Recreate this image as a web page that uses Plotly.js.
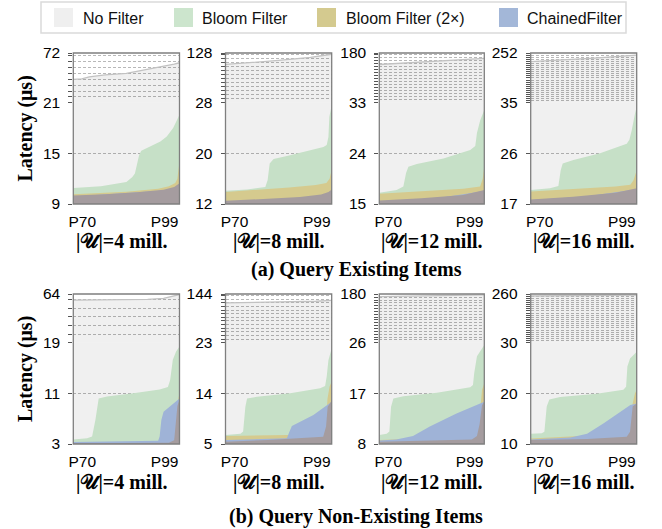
<!DOCTYPE html>
<html><head><meta charset="utf-8">
<script src="https://cdn.plot.ly/plotly-3.0.1.min.js"></script>
<style>html,body{margin:0;padding:0;background:#fff;}#chart{width:662px;height:529px;}</style>
</head><body><div id="chart"></div>
<script>
// ---------- DATA (x = position across the P70..P99 window, 0..100) ----------
const seriesNames = ['No Filter', 'Bloom Filter', 'Bloom Filter (2×)', 'ChainedFilter'];
const panelLabels = ['|𝒰|=4 mill.', '|𝒰|=8 mill.', '|𝒰|=12 mill.', '|𝒰|=16 mill.',
                     '|𝒰|=4 mill.', '|𝒰|=8 mill.', '|𝒰|=12 mill.', '|𝒰|=16 mill.'];
const sectionTitles = ['(a) Query Existing Items', '(b) Query Non-Existing Items'];
const xTickPos = [8.5, 86];
const xTickText = ['P70', 'P99'];
const yMin   = [9, 12, 15, 17, 3, 5, 8, 10];
const yBreak = [21, 28, 33, 35, 19, 23, 26, 30];
const yMax   = [72, 128, 180, 252, 64, 144, 180, 260];
const yStep  = [6, 8, 9, 9, 8, 9, 9, 10];

// (a) Query Existing Items, |U| = 4 mill.
const a4_noFilter = [[0,45],[8,45.5],[15,47.5],[30,49.5],[50,51],[60,53],[70,55],[85,58],[95,60.5],[100,62]];
const a4_bloom    = [[0,10.9],[26,11.1],[50,11.6],[55.6,12.2],[58,12.6],[60,13.6],[62,14.8],[64,15.3],[69,15.6],[75,16.0],[82,16.4],[88,17.0],[94,18.0],[99,19.3],[100,19.6]];
const a4_bloom2x  = [[0,10.15],[50,10.45],[80,10.8],[90,11.1],[96,11.5],[98,12.0],[99,13.0],[100,14.0]];
const a4_chained  = [[0,9.9],[50,10.3],[85,10.6],[95,10.9],[100,11.3]];
const a4_overlap  = [[0,10.0],[30,10.15],[60,10.4],[85,10.7],[95,11.0],[100,11.45]];
// |U| = 8 mill.
const a8_noFilter = [[0,105],[20,108],[50,113],[80,119],[100,125.5]];
const a8_bloom    = [[0,14.1],[20.3,14.3],[37.5,14.7],[39.7,15.8],[41.6,18.4],[45.3,19.1],[57.8,19.6],[76.6,20.3],[92.2,21.0],[95.3,21.3],[96.9,22.6],[97.8,25.8],[100,27.6]];
const a8_bloom2x  = [[0,13.9],[30,14.2],[60,14.6],[85,15.0],[95,15.3],[98,16.0],[100,17.4]];
const a8_chained  = [[0,12.4],[50,12.7],[90,13.3],[100,14.0]];
const a8_overlap  = [[0,12.5],[40,12.8],[70,13.1],[90,13.5],[97,13.9],[100,14.3]];
// |U| = 12 mill.
const a12_noFilter = [[0,146],[30,151],[60,156],[100,164]];
const a12_bloom    = [[0,17.0],[16.5,17.5],[22.9,18.1],[25.5,20.5],[27.7,21.6],[35.7,22.1],[61.1,23.1],[86.6,24.6],[91.4,25.3],[93,27.6],[96.1,29.9],[100,31.7]];
const a12_bloom2x  = [[0,16.8],[40,17.2],[80,17.7],[96,18.1],[98.5,19.5],[100,21.6]];
const a12_chained  = [[0,15.5],[50,15.9],[100,17.3]];
const a12_overlap  = [[0,15.6],[40,16.0],[80,16.6],[95,17.2],[100,17.5]];
// |U| = 16 mill.
const a16_noFilter = [[0,214],[30,221],[60,230],[100,243]];
const a16_bloom    = [[0,19.5],[18.2,19.8],[26.1,20.2],[28.3,23.0],[30.2,24.2],[40.3,24.8],[65.4,26.0],[90.6,27.7],[93.1,28.4],[95.3,30.1],[98.4,33.1],[100,34.3]];
const a16_bloom2x  = [[0,19.2],[40,19.6],[80,20.1],[94,20.4],[97,21.2],[100,23.0]];
const a16_chained  = [[0,17.7],[50,18.3],[100,19.6]];
const a16_overlap  = [[0,17.8],[40,18.3],[80,19.0],[95,19.5],[100,19.8]];

// (b) Query Non-Existing Items, |U| = 4 mill.
const b4_noFilter = [[0,58.4],[40,58.6],[70,59.0],[85,60.0],[95,62.0],[100,63.5]];
const b4_bloom    = [[0,3.7],[13,3.9],[17.7,4.2],[20.8,6.8],[23.9,10.2],[31.7,10.5],[56.5,11.0],[81.3,11.6],[89.1,12.0],[91.2,13.1],[93.7,16.3],[96.8,17.6],[100,18.4]];
const b4_bloom2x  = [[0,3.25],[90,3.35],[96,3.8],[97.5,6.0],[99,10.2],[100,11.0]];
const b4_chained  = [[0,3.3],[56.5,3.4],[79.9,3.5],[81.3,4.2],[82.9,6.8],[85,8.1],[90.6,8.9],[98.4,9.95],[100,10.2]];
const b4_overlap  = [[0,3.1],[90,3.2],[95,3.6],[96.5,6.0],[98,9.0],[100,10.0]];
// |U| = 8 mill.
const b8_noFilter = [[0,122],[50,124],[85,126],[100,128]];
const b8_bloom    = [[0,6.6],[14.1,6.8],[16.6,7.2],[18.7,11.6],[20.3,13.1],[29.7,13.4],[60.9,14.0],[89.1,14.9],[93.8,15.3],[95.3,17.0],[96.9,19.9],[100,22.0]];
const b8_bloom2x  = [[0,6.4],[57.8,6.6],[92,6.9],[94.5,8.0],[96,13.0],[98,15.2],[100,16.1]];
const b8_chained  = [[0,5.7],[57.8,6.0],[60.3,7.2],[62.5,8.2],[82.8,10.15],[98.4,12.2],[100,12.5]];
const b8_overlap  = [[0,5.4],[40,5.7],[92,6.3],[94.7,8.1],[96.2,11.6],[100,12.7]];
// |U| = 12 mill.
const b12_noFilter = [[0,171.5],[50,174],[100,177]];
const b12_bloom    = [[0,9.6],[7,9.8],[9.6,10.2],[11.2,14.6],[13.4,16.1],[22.9,16.5],[54.8,17.1],[86.6,18.1],[89.2,18.5],[90.4,20.6],[93,23.6],[100,25.6]];
const b12_bloom2x  = [[0,8.7],[93,9.3],[95.5,12.8],[97.8,17.6],[100,18.8]];
const b12_chained  = [[0,8.6],[16.2,8.8],[32.1,9.4],[48.1,11.1],[73.5,13.4],[93,14.9],[100,15.5]];
const b12_overlap  = [[0,8.4],[48,8.6],[88.2,8.8],[93,9.4],[95.5,11.5],[97.8,14.9],[100,15.5]];
// |U| = 16 mill.
const b16_noFilter = [[0,250.5],[50,252.5],[100,255]];
const b16_bloom    = [[0,12.0],[10.4,12.1],[12.9,12.4],[15.1,17.4],[17.6,18.8],[27.7,19.3],[62.3,19.9],[87.4,20.7],[90,21.3],[91.2,25.3],[93.7,26.9],[100,28.2]];
const b16_bloom2x  = [[0,11.1],[87.4,12.0],[93.7,12.4],[96.2,18.0],[98.4,20.0],[100,20.7]];
const b16_chained  = [[0,10.9],[37.5,11.3],[53.2,12.0],[68.9,14.1],[94,17.7],[100,18.0]];
const b16_overlap  = [[0,10.8],[53.2,11.0],[90.6,11.45],[93.7,12.4],[96.2,17.4],[100,18.0]];

const panels = [
  [a4_noFilter, a4_bloom, a4_bloom2x, a4_chained, a4_overlap],
  [a8_noFilter, a8_bloom, a8_bloom2x, a8_chained, a8_overlap],
  [a12_noFilter, a12_bloom, a12_bloom2x, a12_chained, a12_overlap],
  [a16_noFilter, a16_bloom, a16_bloom2x, a16_chained, a16_overlap],
  [b4_noFilter, b4_bloom, b4_bloom2x, b4_chained, b4_overlap],
  [b8_noFilter, b8_bloom, b8_bloom2x, b8_chained, b8_overlap],
  [b12_noFilter, b12_bloom, b12_bloom2x, b12_chained, b12_overlap],
  [b16_noFilter, b16_bloom, b16_bloom2x, b16_chained, b16_overlap]
];

// ---------- STYLE / LAYOUT ----------
const W = 662, H = 529;
const fillColors = ['rgba(0,0,0,0.058)', '#c6e0c7', '#d5ca8e', '#9fb3d7', '#a59c9f'];
const legendColors = ['#efefef', '#cce5cd', '#d4ca8f', '#a3b7d8'];
const colPx = [[73.3,179.5],[225.5,331.7],[379.3,484.3],[530.7,636.7]];
const rowPx = [[53,102.7,204],[294,342.7,444]]; // top, break, bottom
const legendBoxPx = [41, 2, 626, 33];
const legendSwatchPx = [54, 174, 317, 499];
const legendTextPx = [81, 200, 344, 525];
const sansFont = 'Liberation Sans, Arial, Helvetica, sans-serif';
const serifFont = 'Liberation Serif, Times New Roman, serif';

const px2x = p => p / W;
const px2y = p => 1 - p / H;

const traces = [];
const layout = {
  width: W, height: H,
  margin: {l:0, r:0, t:0, b:0},
  paper_bgcolor: '#fff', plot_bgcolor: 'rgba(0,0,0,0)',
  showlegend: false,
  shapes: [], annotations: []
};

for (let i = 0; i < 8; i++) {
  const col = i % 4, row = Math.floor(i / 4);
  const xn = i === 0 ? '' : String(i + 1);
  const ylo = String(i + 1), yhi = String(i + 9);
  const xd = [px2x(colPx[col][0]), px2x(colPx[col][1])];
  const [pt, pb, pbot] = rowPx[row];
  const loDom = [px2y(pbot), px2y(pb)];
  const hiDom = [px2y(pb), px2y(pt)];

  const upperVals = [], upperText = [];
  for (let v = yBreak[i] + yStep[i]; v < yMax[i] - 0.5; v += yStep[i]) { upperVals.push(v); upperText.push(''); }
  upperVals.push(yMax[i]); upperText.push(String(yMax[i]));
  const lowerVals = [yMin[i], yMin[i] + yStep[i], yBreak[i]];

  const common = {
    showgrid: true, gridcolor: '#9a9a9a', griddash: '3px,2px', gridwidth: 0.7,
    zeroline: false, showline: false, ticks: 'outside', ticklen: 4, tickwidth: 1, tickcolor: '#555',
    tickfont: {family: sansFont, size: 15.5, color: '#000'}, ticklabelstandoff: 5, fixedrange: true,
    anchor: 'x' + xn
  };
  layout['xaxis' + xn] = {
    domain: xd, anchor: 'y' + (i === 0 ? '' : ylo), range: [0, 100],
    tickmode: 'array', tickvals: xTickPos, ticktext: xTickText, ticks: '',
    showgrid: false, zeroline: false, showline: false, fixedrange: true,
    tickfont: {family: sansFont, size: 15.5, color: '#000'}, ticklabelstandoff: 6
  };
  layout['yaxis' + (i === 0 ? '' : ylo)] = Object.assign({}, common, {
    domain: loDom, range: [yMin[i], yBreak[i]], tickmode: 'array',
    tickvals: lowerVals, ticktext: lowerVals.map(String)
  });
  layout['yaxis' + yhi] = Object.assign({}, common, {
    domain: hiDom, range: [yBreak[i], yMax[i]], tickmode: 'array',
    tickvals: upperVals, ticktext: upperText
  });

  const data = panels[i];
  const xRef = 'x' + xn, yLoRef = 'y' + (i === 0 ? '' : ylo), yHiRef = 'y' + yhi;
  const mk = (arr, idx, yref, withLine) => ({
    type: 'scatter', mode: 'lines', x: arr.map(p => p[0]), y: arr.map(p => p[1]),
    xaxis: xRef, yaxis: yref, fill: 'tozeroy', fillcolor: fillColors[idx],
    line: withLine ? {color: '#c2c2c2', width: 1.3} : {width: 0, color: fillColors[idx]},
    showlegend: false, hoverinfo: 'skip'
  });
  traces.push(mk(data[0], 0, yLoRef, false));
  traces.push(mk(data[0], 0, yHiRef, true));
  for (let s = 1; s < 5; s++) traces.push(mk(data[s], s, yLoRef, false));

  layout.shapes.push({type: 'rect', xref: 'paper', yref: 'paper', x0: xd[0], x1: xd[1],
    y0: loDom[0], y1: hiDom[1], line: {color: '#7f7f7f', width: 1.3}, fillcolor: 'rgba(0,0,0,0)', layer: 'above'});

  layout.annotations.push({xref: 'paper', yref: 'paper', x: (xd[0] + xd[1]) / 2 - (col === 0 ? 0.006 : 0), y: px2y(row === 0 ? 242 : 482),
    text: '<b>' + panelLabels[i] + '</b>', showarrow: false, xanchor: 'center', yanchor: 'middle',
    font: {family: serifFont, size: 20, color: '#000'}});
}
for (let r = 0; r < 2; r++) {
  layout.annotations.push({xref: 'paper', yref: 'paper', x: px2x(25), y: px2y((rowPx[r][0] + rowPx[r][2]) / 2),
    text: '<b>Latency (μs)</b>', textangle: -90, showarrow: false, xanchor: 'center', yanchor: 'middle',
    font: {family: serifFont, size: 20, color: '#000'}});
  layout.annotations.push({xref: 'paper', yref: 'paper', x: px2x(356), y: px2y(r === 0 ? 269 : 516),
    text: '<b>' + sectionTitles[r] + '</b>', showarrow: false, xanchor: 'center', yanchor: 'middle',
    font: {family: serifFont, size: 20, color: '#000'}});
}
// legend (drawn as a box with swatches and text)
layout.shapes.push({type: 'rect', xref: 'paper', yref: 'paper',
  x0: px2x(legendBoxPx[0]), x1: px2x(legendBoxPx[2]), y0: px2y(legendBoxPx[3]), y1: px2y(legendBoxPx[1]),
  line: {color: '#dadada', width: 1.5}, fillcolor: '#fff', layer: 'above'});
for (let s = 0; s < 4; s++) {
  layout.shapes.push({type: 'rect', xref: 'paper', yref: 'paper',
    x0: px2x(legendSwatchPx[s]), x1: px2x(legendSwatchPx[s] + 19), y0: px2y(27), y1: px2y(8),
    line: {width: 0}, fillcolor: legendColors[s], layer: 'above'});
  layout.annotations.push({xref: 'paper', yref: 'paper', x: px2x(legendTextPx[s]), y: px2y(18.5),
    text: seriesNames[s], showarrow: false, xanchor: 'left', yanchor: 'middle',
    font: {family: sansFont, size: 16, color: '#111'}});
}
Plotly.newPlot('chart', traces, layout, {displayModeBar: false, staticPlot: true});
</script></body></html>
